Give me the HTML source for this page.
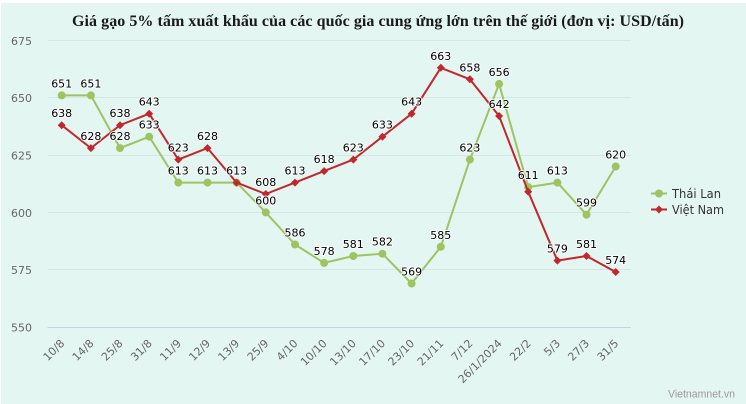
<!DOCTYPE html>
<html>
<head>
<meta charset="utf-8">
<style>
html,body{margin:0;padding:0;background:#fff;}
body{width:746px;height:404px;overflow:hidden;}
svg{display:block;}
.yl{font-family:"DejaVu Sans","Liberation Sans",sans-serif;font-size:11px;fill:#666;text-anchor:end;}
.xl{font-family:"DejaVu Sans","Liberation Sans",sans-serif;font-size:11px;fill:#666;text-anchor:end;}
.dl{font-family:"DejaVu Sans","Liberation Sans",sans-serif;font-size:11px;fill:#000;text-anchor:middle;stroke:#fff;stroke-width:2px;stroke-opacity:0.85;paint-order:stroke;stroke-linejoin:round;}
.lg{font-family:"DejaVu Sans","Liberation Sans",sans-serif;font-size:12px;fill:#333;}
</style>
</head>
<body>
<svg width="746" height="404" viewBox="0 0 746 404" xmlns="http://www.w3.org/2000/svg">
<rect x="0" y="0" width="746" height="404" fill="#ffffff"/>
<rect x="1" y="3" width="745" height="401" fill="#e4f6f1"/>

<text x="378" y="26" text-anchor="middle" textLength="612" lengthAdjust="spacing" style="font-family:'Liberation Serif','Noto Serif CJK SC',serif;font-weight:bold;font-size:16px;fill:#1a1a1a;">Giá gạo 5% tấm xuất khẩu của các quốc gia cung ứng lớn trên thế giới (đơn vị: USD/tấn)</text>

<!-- gridlines -->
<g stroke="#d6e6e2" stroke-width="1">
<line x1="47.5" y1="40.5" x2="631" y2="40.5"/>
<line x1="47.5" y1="97.5" x2="631" y2="97.5"/>
<line x1="47.5" y1="155.5" x2="631" y2="155.5"/>
<line x1="47.5" y1="212.5" x2="631" y2="212.5"/>
<line x1="47.5" y1="269.5" x2="631" y2="269.5"/>
</g>
<line x1="47.5" y1="327.5" x2="631" y2="327.5" stroke="#c4d4e2" stroke-width="1"/>

<!-- y labels -->
<text class="yl" x="32" y="45">675</text>
<text class="yl" x="32" y="102">650</text>
<text class="yl" x="32" y="159.5">625</text>
<text class="yl" x="32" y="217">600</text>
<text class="yl" x="32" y="274">575</text>
<text class="yl" x="32" y="331.5">550</text>

<!-- x labels -->
<text class="xl" transform="translate(65.2,344) rotate(-45)">10/8</text>
<text class="xl" transform="translate(94.4,344) rotate(-45)">14/8</text>
<text class="xl" transform="translate(123.5,344) rotate(-45)">25/8</text>
<text class="xl" transform="translate(152.7,344) rotate(-45)">31/8</text>
<text class="xl" transform="translate(181.8,344) rotate(-45)">11/9</text>
<text class="xl" transform="translate(211,344) rotate(-45)">12/9</text>
<text class="xl" transform="translate(240.1,344) rotate(-45)">13/9</text>
<text class="xl" transform="translate(269.3,344) rotate(-45)">25/9</text>
<text class="xl" transform="translate(298.5,344) rotate(-45)">4/10</text>
<text class="xl" transform="translate(327.6,344) rotate(-45)">10/10</text>
<text class="xl" transform="translate(356.8,344) rotate(-45)">13/10</text>
<text class="xl" transform="translate(385.9,344) rotate(-45)">17/10</text>
<text class="xl" transform="translate(415.1,344) rotate(-45)">23/10</text>
<text class="xl" transform="translate(444.3,344) rotate(-45)">21/11</text>
<text class="xl" transform="translate(473.4,344) rotate(-45)">7/12</text>
<text class="xl" transform="translate(502.6,344) rotate(-45)">26/1/2024</text>
<text class="xl" transform="translate(531.7,344) rotate(-45)">22/2</text>
<text class="xl" transform="translate(560.9,344) rotate(-45)">5/3</text>
<text class="xl" transform="translate(590,344) rotate(-45)">27/3</text>
<text class="xl" transform="translate(619.2,344) rotate(-45)">31/5</text>

<!-- Thai Lan series -->
<polyline fill="none" stroke="#9ec462" stroke-width="2" stroke-linejoin="round" points="61.7,95.4 90.9,95.4 120,148.1 149.2,136.7 178.3,182.6 207.5,182.6 236.6,182.6 265.8,212.4 295,244.5 324.1,262.9 353.3,256 382.4,253.7 411.6,283.5 440.8,246.8 469.9,159.6 499.1,83.9 528.2,187.1 557.4,182.6 586.5,214.7 615.7,166.5"/>
<g fill="#9ec462">
<circle cx="61.7" cy="95.4" r="4"/>
<circle cx="90.9" cy="95.4" r="4"/>
<circle cx="120" cy="148.1" r="4"/>
<circle cx="149.2" cy="136.7" r="4"/>
<circle cx="178.3" cy="182.6" r="4"/>
<circle cx="207.5" cy="182.6" r="4"/>
<circle cx="236.6" cy="182.6" r="4"/>
<circle cx="265.8" cy="212.4" r="4"/>
<circle cx="295" cy="244.5" r="4"/>
<circle cx="324.1" cy="262.9" r="4"/>
<circle cx="353.3" cy="256" r="4"/>
<circle cx="382.4" cy="253.7" r="4"/>
<circle cx="411.6" cy="283.5" r="4"/>
<circle cx="440.8" cy="246.8" r="4"/>
<circle cx="469.9" cy="159.6" r="4"/>
<circle cx="499.1" cy="83.9" r="4"/>
<circle cx="528.2" cy="187.1" r="4"/>
<circle cx="557.4" cy="182.6" r="4"/>
<circle cx="586.5" cy="214.7" r="4"/>
<circle cx="615.7" cy="166.5" r="4"/>
</g>

<!-- Viet Nam series -->
<polyline fill="none" stroke="#c1272d" stroke-width="2" stroke-linejoin="round" points="61.7,125.2 90.9,148.1 120,125.2 149.2,113.7 178.3,159.6 207.5,148.1 236.6,182.6 265.8,194 295,182.6 324.1,171.1 353.3,159.6 382.4,136.7 411.6,113.7 440.8,67.8 469.9,79.3 499.1,116 528.2,191.7 557.4,260.6 586.5,256 615.7,272"/>
<g fill="#c1272d">
<path d="M61.7 121.2 L65.7 125.2 L61.7 129.2 L57.7 125.2Z"/>
<path d="M90.9 144.1 L94.9 148.1 L90.9 152.1 L86.9 148.1Z"/>
<path d="M120 121.2 L124 125.2 L120 129.2 L116 125.2Z"/>
<path d="M149.2 109.7 L153.2 113.7 L149.2 117.7 L145.2 113.7Z"/>
<path d="M178.3 155.6 L182.3 159.6 L178.3 163.6 L174.3 159.6Z"/>
<path d="M207.5 144.1 L211.5 148.1 L207.5 152.1 L203.5 148.1Z"/>
<path d="M236.6 178.6 L240.6 182.6 L236.6 186.6 L232.6 182.6Z"/>
<path d="M265.8 190 L269.8 194 L265.8 198 L261.8 194Z"/>
<path d="M295 178.6 L299 182.6 L295 186.6 L291 182.6Z"/>
<path d="M324.1 167.1 L328.1 171.1 L324.1 175.1 L320.1 171.1Z"/>
<path d="M353.3 155.6 L357.3 159.6 L353.3 163.6 L349.3 159.6Z"/>
<path d="M382.4 132.7 L386.4 136.7 L382.4 140.7 L378.4 136.7Z"/>
<path d="M411.6 109.7 L415.6 113.7 L411.6 117.7 L407.6 113.7Z"/>
<path d="M440.8 63.8 L444.8 67.8 L440.8 71.8 L436.8 67.8Z"/>
<path d="M469.9 75.3 L473.9 79.3 L469.9 83.3 L465.9 79.3Z"/>
<path d="M499.1 112 L503.1 116 L499.1 120 L495.1 116Z"/>
<path d="M528.2 187.7 L532.2 191.7 L528.2 195.7 L524.2 191.7Z"/>
<path d="M557.4 256.6 L561.4 260.6 L557.4 264.6 L553.4 260.6Z"/>
<path d="M586.5 252 L590.5 256 L586.5 260 L582.5 256Z"/>
<path d="M615.7 268 L619.7 272 L615.7 276 L611.7 272Z"/>
</g>

<!-- Thai Lan labels -->
<text class="dl" x="61.7" y="87.4">651</text>
<text class="dl" x="90.9" y="87.4">651</text>
<text class="dl" x="120" y="140.1">628</text>
<text class="dl" x="149.2" y="128.7">633</text>
<text class="dl" x="178.3" y="174.6">613</text>
<text class="dl" x="207.5" y="174.6">613</text>
<text class="dl" x="265.8" y="204.4">600</text>
<text class="dl" x="295" y="236.5">586</text>
<text class="dl" x="324.1" y="254.9">578</text>
<text class="dl" x="353.3" y="248">581</text>
<text class="dl" x="382.4" y="245.7">582</text>
<text class="dl" x="411.6" y="275.5">569</text>
<text class="dl" x="440.8" y="238.8">585</text>
<text class="dl" x="469.9" y="151.6">623</text>
<text class="dl" x="499.1" y="75.9">656</text>
<text class="dl" x="528.2" y="179.1">611</text>
<text class="dl" x="557.4" y="174.6">613</text>
<text class="dl" x="586.5" y="206.7">599</text>
<text class="dl" x="615.7" y="158.5">620</text>

<!-- Viet Nam labels -->
<text class="dl" x="61.7" y="117.2">638</text>
<text class="dl" x="90.9" y="140.1">628</text>
<text class="dl" x="120" y="117.2">638</text>
<text class="dl" x="149.2" y="105.7">643</text>
<text class="dl" x="178.3" y="151.6">623</text>
<text class="dl" x="207.5" y="140.1">628</text>
<text class="dl" x="236.6" y="174.6">613</text>
<text class="dl" x="265.8" y="186">608</text>
<text class="dl" x="295" y="174.6">613</text>
<text class="dl" x="324.1" y="163.1">618</text>
<text class="dl" x="353.3" y="151.6">623</text>
<text class="dl" x="382.4" y="128.7">633</text>
<text class="dl" x="411.6" y="105.7">643</text>
<text class="dl" x="440.8" y="59.8">663</text>
<text class="dl" x="469.9" y="71.3">658</text>
<text class="dl" x="499.1" y="108">642</text>
<text class="dl" x="557.4" y="252.6">579</text>
<text class="dl" x="586.5" y="248">581</text>
<text class="dl" x="615.7" y="264">574</text>

<!-- legend -->
<line x1="651" y1="193.5" x2="667" y2="193.5" stroke="#9ec462" stroke-width="2"/>
<circle cx="659" cy="193.5" r="4" fill="#9ec462"/>
<text class="lg" x="672" y="198" textLength="49" lengthAdjust="spacingAndGlyphs">Thái Lan</text>
<line x1="651" y1="209.5" x2="667" y2="209.5" stroke="#c1272d" stroke-width="2"/>
<path d="M659 205.5 L663 209.5 L659 213.5 L655 209.5Z" fill="#c1272d"/>
<text class="lg" x="672" y="214" textLength="52" lengthAdjust="spacingAndGlyphs">Việt Nam</text>

<!-- watermark -->
<text x="668" y="397.5" textLength="67" lengthAdjust="spacingAndGlyphs" style="font-family:'Liberation Sans',sans-serif;font-size:11px;fill:#9a9a9a;">Vietnamnet.vn</text>
</svg>
</body>
</html>
